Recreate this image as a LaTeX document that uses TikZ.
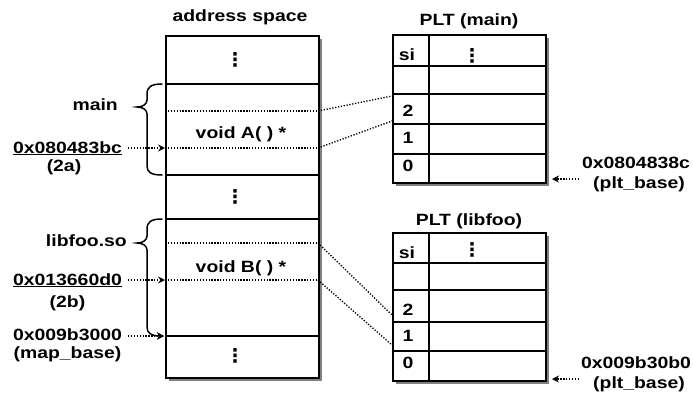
\documentclass[tikz,border=0pt]{standalone}
\usepackage{fontspec}
\setmainfont{Liberation Sans}[FakeStretch=1.19]
\newfontfamily\dotsfont{DejaVu Sans}
\usetikzlibrary{arrows.meta,shadows}

\begin{document}
\begin{tikzpicture}[x=1pt,y=-1pt,
  lbl/.style={font=\fontsize{16.3}{18}\selectfont\bfseries, inner sep=0pt, anchor=base},
  vdot/.style={font=\fontsize{19}{20}\dotsfont\bfseries, inner sep=0pt, anchor=center},
  frame/.style={line width=1.5pt},
  box/.style={draw, line width=1.5pt, fill=white, inner sep=0pt, anchor=north west,
    drop shadow={shadow xshift=3.5pt, shadow yshift=-3.5pt, fill=black!50, opacity=1}},
  dotline/.style={line width=1.3pt, dash pattern=on 1.3pt off 1.6pt},
  tip/.style={-{Stealth[length=7pt,width=7pt,inset=2.5pt]}},
  brace/.style={line width=1.5pt, line cap=round}]
\useasboundingbox (0,0) rectangle (693,400);

% ---------- address space ----------
\node[lbl] (astitle) at (240,21) {address space};
\node[box, minimum width=153pt, minimum height=342pt] (as) at (165,35) {};
\foreach \y in {84,175,219,336} \draw[frame] (165,\y) -- (318,\y);
\node[vdot] (dtop) at (235,60) {⋮};
\node[vdot] (dmid) at (235,197) {⋮};
\node[vdot] (dbot) at (235,356) {⋮};
\node[lbl] (fa) at (241,138) {void A( ) *};
\node[lbl] (fb) at (241,272.5) {void B( ) *};

% entry lines inside the two mapped regions
\coordinate (aL1) at (165,111); \coordinate (aR1) at (318,111);
\coordinate (aL2) at (165,148); \coordinate (aR2) at (318,148);
\coordinate (bL1) at (165,243); \coordinate (bR1) at (318,243);
\coordinate (bL2) at (165,280); \coordinate (bR2) at (318,280);
\coordinate (mapline) at (164,336);
\draw[dotline] (aL1) -- (aR1);
\draw[dotline] (aL2) -- (aR2);
\draw[dotline] (bL1) -- (bR1);
\draw[dotline] (bL2) -- (bR2);

% ---------- PLT (main) ----------
\node[lbl] (pmtitle) at (469,25) {PLT (main)};
\node[box, minimum width=153pt, minimum height=148pt] (pm) at (392,34) {};
\draw[frame] (429,34) -- (429,182);
\foreach \y in {66,94,124,154} \draw[frame] (392,\y) -- (545,\y);
\node[lbl] (pmsi) at (407,60) {si};
\node[vdot] (pmd) at (472,56) {⋮};
\node[lbl] (pm2) at (408,116.5) {2};
\node[lbl] (pm1) at (408,143.3) {1};
\node[lbl] (pm0) at (408,171.5) {0};
\coordinate (pmA) at (392,96);
\coordinate (pmB) at (392,121);

% ---------- PLT (libfoo) ----------
\node[lbl] (pltitle) at (469,225) {PLT (libfoo)};
\node[box, minimum width=153pt, minimum height=148pt] (pl) at (392,232) {};
\draw[frame] (429,232) -- (429,380);
\foreach \y in {263,290,322,351} \draw[frame] (392,\y) -- (545,\y);
\node[lbl] (plsi) at (407,258) {si};
\node[vdot] (pld) at (472,250) {⋮};
\node[lbl] (pl2) at (408,315) {2};
\node[lbl] (pl1) at (408,341.7) {1};
\node[lbl] (pl0) at (408,368) {0};
\coordinate (plA) at (392,315);
\coordinate (plB) at (392,345);

% ---------- links from the code to the PLT slots ----------
\draw[dotline] (aR1) -- (pmA);
\draw[dotline] (aR2) -- (pmB);
\draw[dotline] (bR1) -- (plA);
\draw[dotline] (bR2) -- (plB);

% ---------- braces ----------
\draw[brace] (162,84) .. controls (151,84) and (147,87) .. (147,94)
  -- (147,100) .. controls (147,104) and (143,107) .. (137,107)
  .. controls (143,107) and (147,110) .. (147,114)
  -- (147,166) .. controls (147,172) and (151,175) .. (162,175);
\draw[brace, tip] (162,219) .. controls (151,219) and (147,222) .. (147,229)
  -- (147,236) .. controls (147,240) and (143,243) .. (137,243)
  .. controls (143,243) and (147,246) .. (147,250)
  -- (147,327) .. controls (147,333) and (151,336) .. (mapline);

% ---------- left labels ----------
\node[lbl, anchor=base east] (lmain) at (118,110) {main};
\node[lbl, anchor=base east] (llib) at (127,246.5) {libfoo.so};
\node[lbl] (addrA) at (67.5,153) {\underline{0x080483bc}};
\node[lbl] (noteA) at (64,171) {(2a)};
\node[lbl] (addrB) at (67.5,285) {\underline{0x013660d0}};
\node[lbl] (noteB) at (67.5,307) {(2b)};
\node[lbl] (mapb) at (67.5,340) {0x009b3000};
\node[lbl] (mapn) at (67.5,358) {(map\_base)};
\draw[dotline, tip] (128,148) -- (aL2);
\draw[dotline, tip] (128,280) -- (bL2);
\draw[dotline, tip] (128,336) -- (mapline);

% ---------- right labels ----------
\node[lbl] (pbm) at (636,168) {0x0804838c};
\node[lbl] (pbmn) at (639,188) {(plt\_base)};
\node[lbl] (pbl) at (636,368) {0x009b30b0};
\node[lbl] (pbln) at (639,388) {(plt\_base)};
\coordinate (pmcorner) at (552,179);
\coordinate (plcorner) at (552,379);
\draw[dotline, tip] (579,179) -- (pmcorner);
\draw[dotline, tip] (579,379) -- (plcorner);
\end{tikzpicture}
\end{document}
